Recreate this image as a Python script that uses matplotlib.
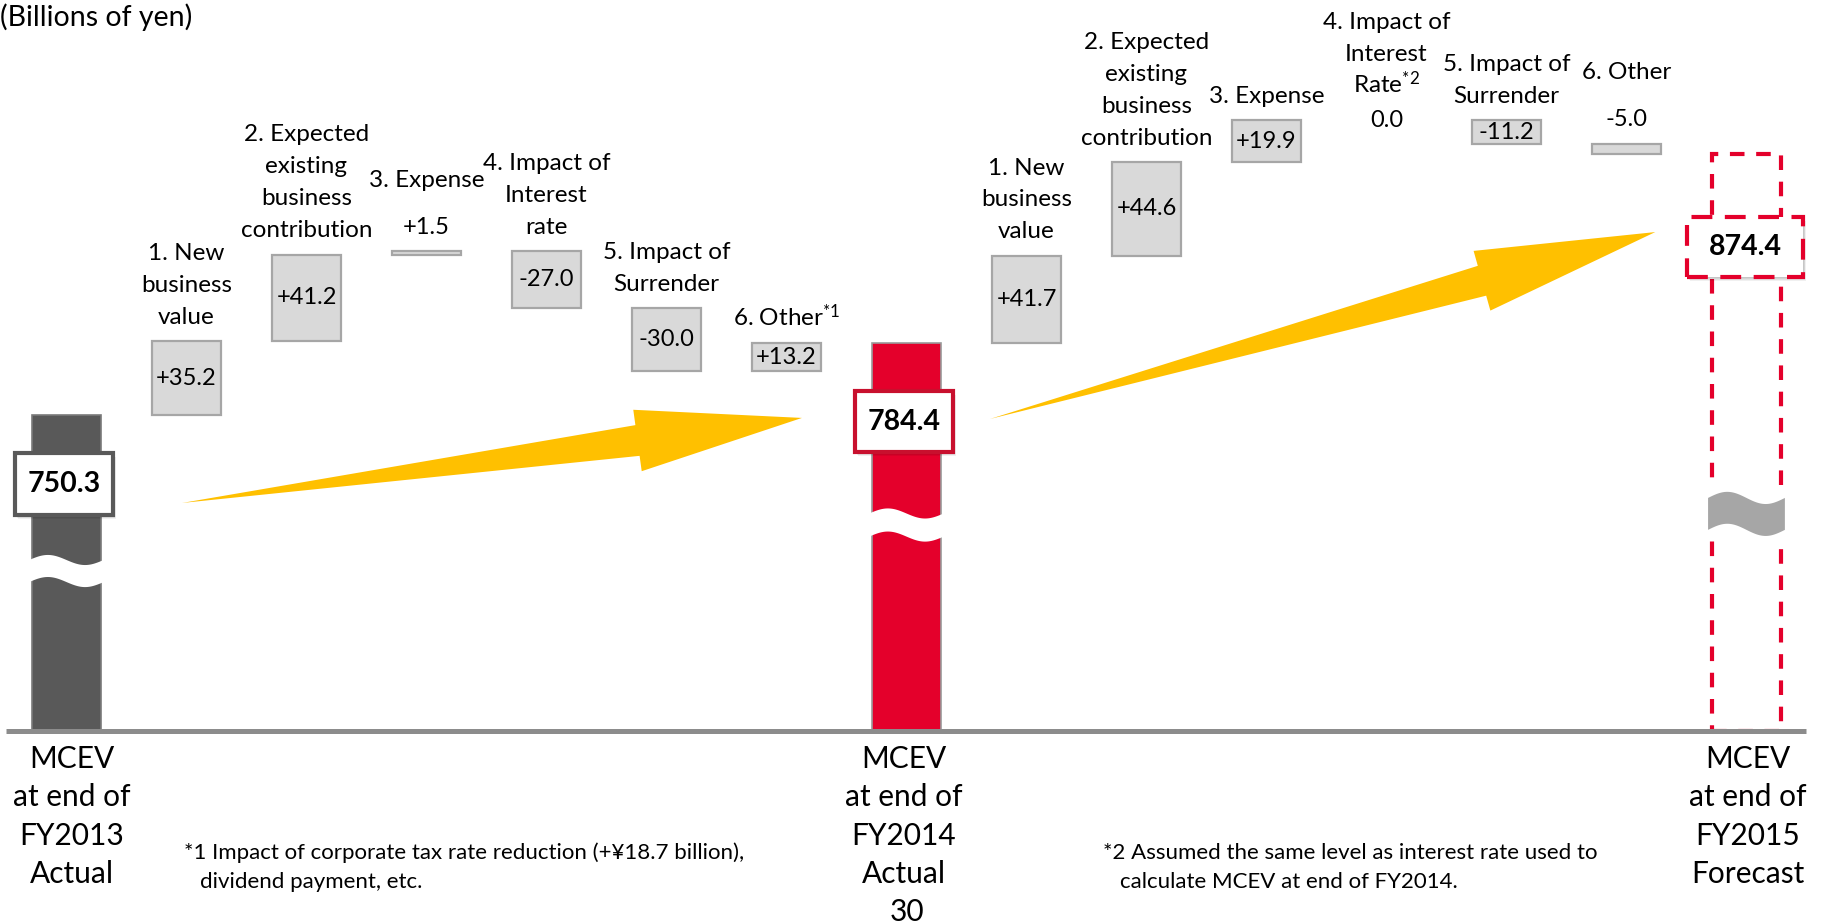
import numpy as np
import matplotlib
matplotlib.use("Agg")
import matplotlib.pyplot as plt
from matplotlib.patches import Polygon, Rectangle

plt.rcParams['font.family'] = ['Lato', 'DejaVu Sans']
plt.rcParams['mathtext.fontset'] = 'custom'
plt.rcParams['mathtext.rm'] = 'Lato'
plt.rcParams['mathtext.it'] = 'Lato:italic'
plt.rcParams['mathtext.bf'] = 'Lato:bold'

# MCEV walk, billions of yen
start_value = 750.3
mid_value = 784.4
end_value = 874.4
steps_2014 = [35.2, 41.2, 1.5, -27.0, -30.0, 13.2]
steps_2015 = [41.7, 44.6, 19.9, 0.0, -11.2, -5.0]
step_labels_2014 = ['1. New\nbusiness\nvalue', '2. Expected\nexisting\nbusiness\ncontribution',
                    '3. Expense', '4. Impact of\nInterest\nrate', '5. Impact of\nSurrender',
                    '6. Other$^{*1}$']
step_labels_2015 = ['1. New\nbusiness\nvalue', '2. Expected\nexisting\nbusiness\ncontribution',
                    '3. Expense', '4. Impact of\nInterest\nRate$^{*2}$', '5. Impact of\nSurrender',
                    '6. Other']
total_labels = ['MCEV\nat end of\nFY2013\nActual', 'MCEV\nat end of\nFY2014\nActual',
                'MCEV\nat end of\nFY2015\nForecast']
footnote_1 = ['*1 Impact of corporate tax rate reduction (+¥18.7 billion),', 'dividend payment, etc.']
footnote_2 = ['*2 Assumed the same level as interest rate used to', 'calculate MCEV at end of FY2014.']

Y_BASE = 600          # where the broken axis starts
BAR_W = 0.583
LINE_STEP = 15.2      # label line pitch in value units (~32 px)
GREY_FILL, GREY_EDGE = '#d9d9d9', '#a6a6a6'
DARK, RED, RED_BOX, YELLOW = '#595959', '#e4002b', '#c8102e', '#ffc000'

fig = plt.figure(figsize=(18.21, 9.23), dpi=100)
ax = fig.add_axes([0, 0, 1, 1])
ax.set_xlim(-0.554, 14.621)
ax.set_ylim(508.4, 947.9)
ax.axis('off')


def wave_band(xc, yc, half_w, thick, amp, color, z):
    t = np.linspace(0, 1, 60)
    xs = xc - half_w + 2 * half_w * t
    top = yc + thick / 2 + amp * np.sin(2 * np.pi * t)
    bot = yc - thick / 2 + amp * np.sin(2 * np.pi * t)
    pts = np.column_stack([np.r_[xs, xs[::-1]], np.r_[top, bot[::-1]]])
    ax.add_patch(Polygon(pts, closed=True, facecolor=color, edgecolor='none', zorder=z))


def value_box(xc, yc, w, h, text, edge, ls='-'):
    # soft drop shadow
    for k in range(1, 5):
        ax.add_patch(Rectangle((xc - w / 2 + 0.006 * k, yc - h / 2 - 0.45 * k), w, h,
                               facecolor='black', edgecolor='none', alpha=0.06, zorder=6))
    ax.add_patch(Rectangle((xc - w / 2, yc - h / 2), w, h, facecolor='white',
                           edgecolor=edge, linewidth=3, linestyle=ls, zorder=7))
    ax.text(xc, yc, text, ha='center', va='center', fontsize=20.5, fontweight='bold',
            color='black', zorder=8)


def arrow(tail, tip, body_half, head_half, head_len):
    tr = ax.transData
    p0, p1 = tr.transform(tail), tr.transform(tip)
    d = p1 - p0
    u = d / np.hypot(*d)
    n = np.array([-u[1], u[0]])
    base = p1 - u * head_len
    pts = np.array([p0, base + n * body_half, base + n * head_half, p1,
                    base - n * head_half, base - n * body_half])
    ax.add_patch(Polygon(tr.inverted().transform(pts), closed=True, facecolor=YELLOW,
                         edgecolor='none', zorder=3))


# totals
ax.bar(0, start_value - Y_BASE, bottom=Y_BASE, width=BAR_W, color=DARK,
       edgecolor='#7a7a7a', linewidth=1.2, zorder=2)
ax.bar(7, mid_value - Y_BASE, bottom=Y_BASE, width=BAR_W, color=RED,
       edgecolor='#9a9a9a', linewidth=1.2, zorder=2)
ax.bar(14, end_value - Y_BASE, bottom=Y_BASE, width=0.575, fill=False, edgecolor=RED,
       linewidth=3, linestyle=(0, (3.5, 2.8)), zorder=2)

# axis break marks
wave_band(0, 676.0, 0.31, 10.5, 2.4, 'white', 4)
wave_band(7, 697.9, 0.31, 11.0, 2.4, 'white', 4)
wave_band(14, 703.2, 0.35, 23.5, 2.9, 'white', 4)
wave_band(14, 703.2, 0.32, 15.2, 2.9, '#a6a6a6', 5)

# floating step bars
for steps, labels, x0, start in [(steps_2014, step_labels_2014, 1, start_value),
                                 (steps_2015, step_labels_2015, 8, mid_value)]:
    steps = np.array(steps)
    xs = x0 + np.arange(len(steps))
    bottoms = start + np.r_[0, np.cumsum(steps)[:-1]]
    nz = steps != 0
    ax.bar(xs[nz], steps[nz], bottom=bottoms[nz], width=BAR_W, color=GREY_FILL,
           edgecolor=GREY_EDGE, linewidth=1.6, zorder=2)
    for x, b, v, lab in zip(xs, bottoms, steps, labels):
        top = max(b, b + v)
        txt = f'{v:+.1f}' if v != 0 else '0.0'
        if abs(v) >= 10:
            ax.text(x, b + v / 2, txt, ha='center', va='center', fontsize=17, zorder=8)
            cat_y = top + 8.3
        else:
            vy = top + 8.3 if v != 0 else top - 3.2
            ax.text(x, vy, txt, ha='center', va='baseline', fontsize=17, zorder=8)
            cat_y = vy + (22.5 if v != 0 else 16.2)
        # one text per line so that superscripts do not stretch the pitch
        for k, line in enumerate(lab.split('\n')[::-1]):
            ax.text(x, cat_y + k * LINE_STEP, line, ha='center', va='baseline',
                    fontsize=17.5, zorder=8)

# baseline
ax.plot([-0.5, 14.5], [Y_BASE, Y_BASE], color='#8c8c8c', linewidth=3.6,
        solid_capstyle='butt', zorder=9)

# value boxes on totals
value_box(-0.02, 717.4, 0.817, 29.5, f'{start_value:.1f}', DARK)
value_box(6.98, 747.0, 0.817, 29.0, f'{mid_value:.1f}', RED_BOX)
value_box(13.99, 830.3, 0.967, 28.6, f'{end_value:.1f}', RED, ls=(0, (5, 3)))

# yellow progress arrows
arrow((0.9625, 708.4), (6.129, 748.9), 15.5, 31, 166)
arrow((7.696, 748.4), (13.24, 837.4), 15.5, 31, 180)

# category labels under the baseline
for x, lab in zip([0.046, 6.979, 14.01], total_labels):
    ax.text(x, Y_BASE - 6.9, lab, ha='center', va='top', fontsize=21.5, linespacing=1.45)

W, H = 1821, 923
fig.text(0, 1 - 17 / H, '(Billions of yen)', ha='left', va='center', fontsize=20.5)
fig.text(184 / W, 1 - 853 / H, footnote_1[0], ha='left', va='center', fontsize=16)
fig.text(200 / W, 1 - 882 / H, footnote_1[1], ha='left', va='center', fontsize=16)
fig.text(1103 / W, 1 - 853 / H, footnote_2[0], ha='left', va='center', fontsize=16)
fig.text(1120 / W, 1 - 882 / H, footnote_2[1], ha='left', va='center', fontsize=16)
fig.text(907 / W, 1 - 912 / H, '30', ha='center', va='center', fontsize=21.5)

fig.savefig('out.png', dpi=100, facecolor='white')
